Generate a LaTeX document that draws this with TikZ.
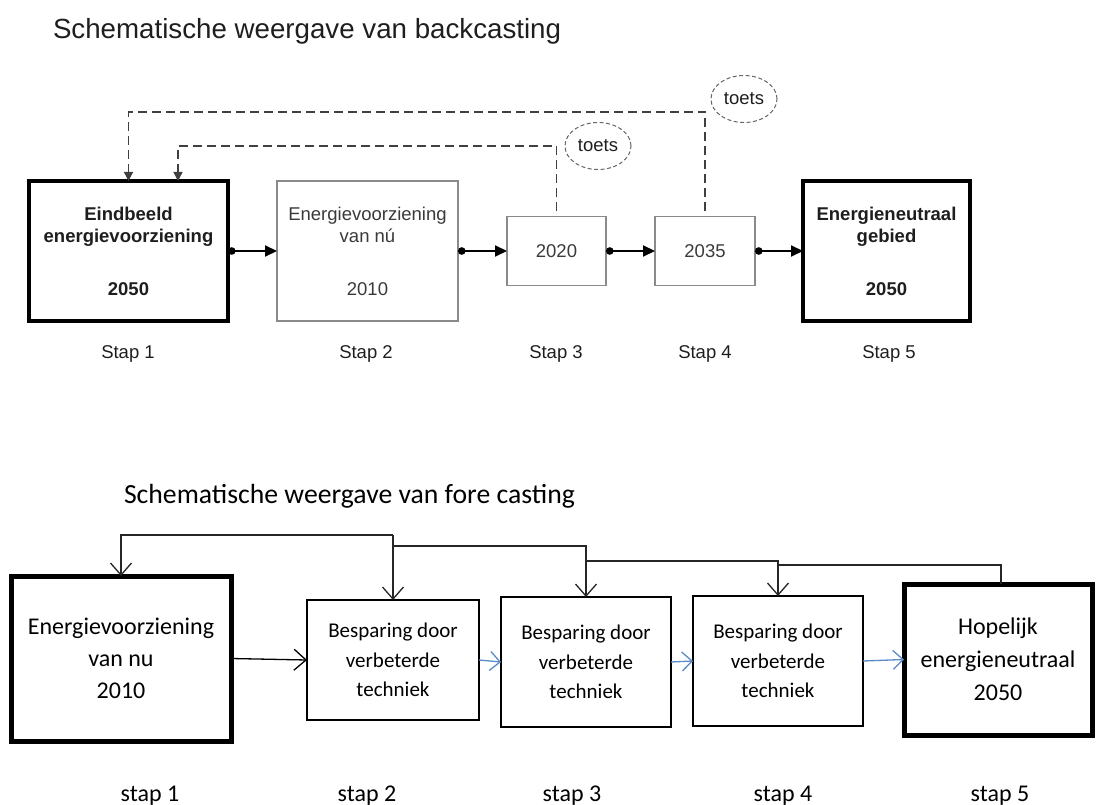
\documentclass[tikz,border=0pt]{standalone}
\usepackage{fontspec}
\setmainfont{Liberation Sans}
\newfontfamily\calibri{Carlito}
\usetikzlibrary{arrows.meta,shapes.geometric,calc}

\definecolor{ink}{HTML}{1E1E1E}
\definecolor{frame}{HTML}{8A8A8A}
\definecolor{softink}{HTML}{3A3A3A}
\definecolor{flowblue}{HTML}{5B8BC6}

\begin{document}
\begin{tikzpicture}[x=1pt,y=-1pt,
  every node/.style={inner sep=0pt, outer sep=0pt},
  % backcasting scheme
  bigbox/.style={draw=black, line width=3.2pt, align=center, text=ink,
    font=\bfseries\fontsize{18.5}{22}\selectfont, minimum height=140pt},
  graybox/.style={draw=frame, line width=1.2pt, align=center, text=softink,
    font=\fontsize{18.5}{22}\selectfont},
  toetsnode/.style={ellipse, draw=black!60, dash pattern=on 4pt off 2.5pt,
    line width=1pt, minimum width=66pt, minimum height=47pt, text=ink,
    font=\fontsize{18.5}{22}\selectfont},
  steplabel/.style={anchor=base, text=ink, font=\fontsize{18.5}{22}\selectfont},
  flow/.style={line width=2pt, {Circle[length=7.5pt]}-{Triangle[length=12pt,width=11pt]}},
  check/.style={line width=1.3pt, draw=black!75, dash pattern=on 9pt off 5pt,
    -{Triangle[length=9pt,width=9pt]}},
  % forecasting scheme
  fbox/.style={draw=black, line width=1.3pt, align=center,
    font=\calibri\fontsize{21}{29.5}\selectfont},
  fbig/.style={draw=black, line width=5pt, align=center,
    font=\calibri\fontsize{24}{32}\selectfont},
  fstep/.style={anchor=base, font=\calibri\fontsize{24}{28}\selectfont},
  back/.style={line width=1.3pt, draw=black!85},
  backarrow/.style={back, -{Straight Barb[length=12pt,width=21pt,line width=1.3pt]}},
  blueflow/.style={line width=1.3pt, draw=flowblue,
    -{Straight Barb[length=10pt,width=19pt,line width=1.3pt]}},
]
\useasboundingbox (0,0) rectangle (1096,805);

% ---------- backcasting ----------
\node[anchor=base west, text=ink, font=\fontsize{27.7}{32}\selectfont] (title1)
  at (53,39) {Schematische weergave van backcasting};

\node[bigbox, minimum width=199pt] (b1) at (128.5,251)
  {Eindbeeld\\energievoorziening\\[31pt]2050};
\node[graybox, minimum width=181pt, minimum height=140pt] (b2) at (367.5,251)
  {Energievoorziening\\van nú\\[31pt]2010};
\node[graybox, minimum width=99pt, minimum height=69pt] (b3) at (556.5,251) {2020};
\node[graybox, minimum width=100pt, minimum height=69pt] (b4) at (705,251) {2035};
\node[bigbox, minimum width=167pt] (b5) at (886.5,251)
  {Energieneutraal\\gebied\\[31pt]2050};

\draw[flow] (b1.east) -- (b2.west);
\draw[flow] (b2.east) -- (b3.west);
\draw[flow] (b3.east) -- (b4.west);
\draw[flow] (b4.east) -- (b5.west);

% feedback checks
\coordinate (outer) at (0,112);
\coordinate (inner) at (0,146);
\draw[check, shorten <=5pt] (b4.north) -- (b4.north |- outer) -| (b1.north);
\draw[check, shorten <=5pt] (b3.north) -- (b3.north |- inner) -| ([xshift=49.5pt]b1.north);

\node[toetsnode] (toets1) at (598,146) {toets};
\node[toetsnode] (toets2) at (744,99) {toets};

\node[steplabel] (s1) at (128,359) {Stap 1};
\node[steplabel] (s2) at (366,359) {Stap 2};
\node[steplabel] (s3) at (556,359) {Stap 3};
\node[steplabel] (s4) at (705,359) {Stap 4};
\node[steplabel] (s5) at (889,359) {Stap 5};

% ---------- forecasting ----------
\node[anchor=base west, font=\calibri\fontsize{27.7}{32}\selectfont] (title2)
  at (124,503) {Schematische weergave van fore casting};

\node[fbig, minimum width=220pt, minimum height=165pt] (c1) at (121,658.5)
  {Energievoorziening\\van nu\\2010};
\node[fbox, minimum width=172pt, minimum height=120pt] (c2) at (393,660)
  {Besparing door\\verbeterde\\techniek};
\node[fbox, minimum width=170pt, minimum height=130pt] (c3) at (586,662)
  {Besparing door\\verbeterde\\techniek};
\node[fbox, minimum width=170pt, minimum height=130pt] (c4) at (778,661)
  {Besparing door\\verbeterde\\techniek};
\node[fbig, minimum width=188pt, minimum height=151pt, font=\calibri\fontsize{24}{33}\selectfont] (c5) at (998,659.5)
  {Hopelijk\\energieneutraal\\2050};

\draw[line width=1.3pt, -{Straight Barb[length=12pt,width=21pt,line width=1.3pt]}] (c1.east) -- (c2.west);
\draw[blueflow] (c2.east) -- (c3.west);
\draw[blueflow] (c3.east) -- (c4.west);
\draw[blueflow] (c4.east) -- (c5.west);

% feedback lines
\coordinate (f1) at (0,535);
\coordinate (f2) at (0,546);
\coordinate (f3) at (0,561);
\coordinate (f4) at (0,565);
\draw[back] ([xshift=3pt]c5.north) |- (c4.north |- f4);
\draw[backarrow] (c3.north |- f3) -| (c4.north);
\draw[backarrow] (c2.north |- f2) -| (c3.north);
\draw[backarrow] (c2.north |- f1) -| (c1.north);
\draw[backarrow] (c2.north |- f1) -- (c2.north);

\node[fstep] (t1) at (150,801) {stap 1};
\node[fstep] (t2) at (367,801) {stap 2};
\node[fstep] (t3) at (572,801) {stap 3};
\node[fstep] (t4) at (783,801) {stap 4};
\node[fstep] (t5) at (1000,801) {stap 5};
\end{tikzpicture}
\end{document}
